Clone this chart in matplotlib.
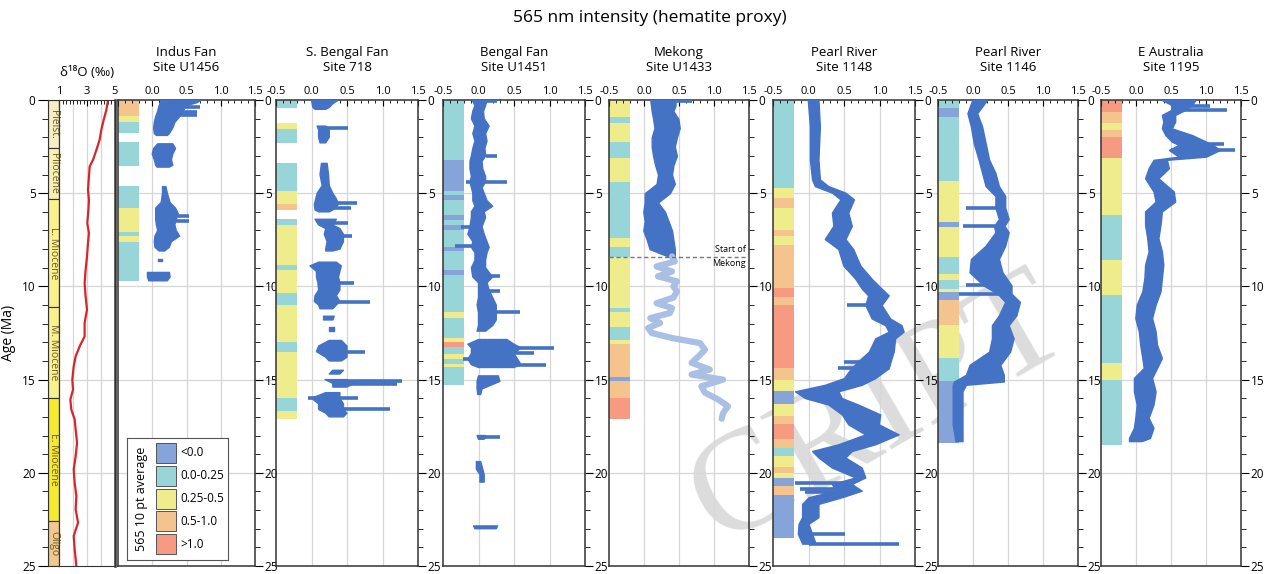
"""
565 nm intensity (hematite proxy) down-core records for seven sites,
with a benthic d18O stack and epoch column on the left.
"""

import numpy as np
import matplotlib.pyplot as plt
from matplotlib.patches import Rectangle
from matplotlib.ticker import MultipleLocator

nan = np.nan
plt.rcParams['font.family'] = ['Open Sans', 'DejaVu Sans']

# ---- epochs and d18O ----
epoch_names = ['Pleist.', 'Pliocene', 'L. Miocene', 'M. Miocene', 'E. Miocene', 'Oligo']
epoch_top = [0, 2.6, 5.33, 11.1, 16.0, 22.6]
epoch_bot = [2.6, 5.33, 11.1, 16.0, 22.6, 25]
epoch_colors = ['#f8eec4', '#f8efb4', '#f9f08e', '#f9f08e', '#f6ea2e', '#f0c890']

d18o_age = [0, 0.54, 1.07, 1.61, 2.14, 2.68, 3.21, 3.57, 4.11, 4.82, 5.36, 5.89,
            6.61, 7.14, 7.68, 8.39, 9.11, 9.82, 10.54, 11.25, 11.96, 12.68, 13.21,
            13.75, 14.29, 15.0, 15.54, 16.07, 16.61, 17.14, 17.68, 18.39, 19.11,
            19.82, 20.54, 21.25, 21.96, 22.68, 23.39, 24.11, 25.0]
d18o_val = [4.5, 4.38, 4.19, 4.02, 3.9, 3.67, 3.43, 3.19, 3.14, 3.07, 3.14, 3.1,
            3.02, 3.14, 3.07, 3.0, 2.9, 2.83, 2.9, 3.0, 2.83, 2.83, 2.48,
            2.19, 2.05, 1.95, 2.0, 1.81, 1.88, 2.12, 2.19, 2.29, 2.19,
            2.05, 2.12, 2.24, 2.19, 2.36, 2.05, 2.12, 2.24]

# ---- colour classes of the 10 pt average ----
bin_labels = ['<0.0', '0.0-0.25', '0.25-0.5', '0.5-1.0', '>1.0']
bin_colors = ['#86a4d9', '#97d5d9', '#efec8c', '#f5c48e', '#f69a82']

# ---- Indus Fan, Site U1456 ----
indus_age = [0.0, 0.15, 0.3, 0.6, 0.9, 1.2, 1.5, 1.8, 1.9, nan,
             2.35, 2.6, 2.9, 3.2, 3.5, 3.6, nan,
             4.65, 5.0, 5.5, 5.8, 6.1, 6.4, 6.7, 7.0, 7.3, 7.6, 7.9, 8.1, nan,
             8.55, 8.65, nan, 9.25, 9.5, 9.7]
indus_lo = [0.13, 0.12, 0.10, 0.08, 0.05, 0.03, 0.02, 0.03, 0.06, nan,
            0.08, 0.02, 0.0, 0.03, 0.05, 0.07, nan,
            0.15, 0.15, 0.13, 0.05, 0.05, 0.05, 0.06, 0.08, 0.04, 0.03, 0.04, 0.10, nan,
            0.09, 0.09, nan, -0.07, -0.07, -0.05]
indus_hi = [0.72, 0.65, 0.50, 0.45, 0.40, 0.33, 0.30, 0.25, 0.22, nan,
            0.30, 0.34, 0.30, 0.28, 0.30, 0.25, nan,
            0.20, 0.22, 0.26, 0.34, 0.38, 0.35, 0.33, 0.35, 0.40, 0.28, 0.25, 0.18, nan,
            0.14, 0.14, nan, 0.25, 0.26, 0.22]
indus_streak_age = [0.35, 0.62, 0.8, 6.2, 6.5]
indus_streak_from = [0.3, 0.3, 0.3, 0.2, 0.2]
indus_streak_to = [0.70, 0.65, 0.65, 0.53, 0.53]
indus_bin_top = [0, 0.86, 1.16, 2.23, 4.6, 5.8, 7.1, 7.3, 7.6]
indus_bin_bot = [0.86, 1.16, 1.79, 3.54, 5.8, 7.1, 7.3, 7.6, 9.7]
indus_bin_cls = [3, 2, 1, 1, 1, 2, 1, 2, 1]

# ---- S. Bengal Fan, Site 718 ----
sbengal_age = [0.0, 0.2, 0.4, 0.5, nan,
               1.4, 1.6, 2.0, 2.3, nan,
               3.4, 4.0, 4.6, 5.0, 5.3, 5.6, 5.9, 6.0, nan,
               6.4, 6.7, 6.9, 7.2, 7.6, 8.0, 8.1, nan,
               8.7, 8.9, 9.2, 9.5, 9.8, 10.2, 10.5, 10.8, 11.0, 11.2, nan,
               11.6, 11.8, nan, 12.2, 12.4, nan,
               12.9, 13.2, 13.5, 13.8, 14.0, nan,
               14.5, 14.7, nan, 15.0, 15.2, 15.4, nan,
               15.7, 16.0, 16.3, 16.6, 16.8, 17.0]
sbengal_lo = [0.0, 0.01, 0.02, 0.05, nan,
              0.08, 0.10, 0.10, 0.12, nan,
              0.14, 0.12, 0.15, 0.08, 0.06, 0.04, 0.05, 0.10, nan,
              0.05, 0.10, 0.20, 0.18, 0.22, 0.20, 0.20, nan,
              0.10, -0.02, 0.07, 0.07, 0.09, 0.10, 0.05, 0.04, 0.10, 0.12, nan,
              0.17, 0.17, nan, 0.24, 0.24, nan,
              0.25, 0.10, 0.07, 0.20, 0.25, nan,
              0.30, 0.25, nan, 0.19, 0.30, 0.30, nan,
              0.20, 0.0, 0.10, 0.10, 0.20, 0.25]
sbengal_hi = [0.38, 0.30, 0.25, 0.20, nan,
              0.20, 0.25, 0.25, 0.20, nan,
              0.22, 0.24, 0.25, 0.30, 0.35, 0.38, 0.30, 0.25, nan,
              0.35, 0.30, 0.40, 0.45, 0.45, 0.40, 0.30, nan,
              0.35, 0.42, 0.40, 0.38, 0.40, 0.40, 0.35, 0.40, 0.35, 0.30, nan,
              0.32, 0.30, nan, 0.32, 0.32, nan,
              0.42, 0.50, 0.50, 0.50, 0.42, nan,
              0.45, 0.40, nan, 0.50, 0.60, 0.50, nan,
              0.40, 0.40, 0.45, 0.45, 0.50, 0.45]
sbengal_streak_age = [1.5, 5.55, 5.8, 6.6, 7.3, 9.8, 10.85, 13.5, 15.05, 15.25, 16.0, 16.6]
sbengal_streak_from = [0.15, 0.2, 0.2, 0.2, 0.3, 0.3, 0.3, 0.3, 0.3, 0.4, -0.05, 0.3]
sbengal_streak_to = [0.52, 0.64, 0.56, 0.52, 0.57, 0.60, 0.83, 0.75, 1.27, 1.20, 0.65, 1.10]
sbengal_bin_top = [0, 1.25, 1.57, 3.4, 4.9, 5.6, 6.4, 6.7, 8.84, 9.1, 10.36, 11.0, 13.0, 13.5, 16.0, 16.7]
sbengal_bin_bot = [0.45, 1.57, 2.29, 4.9, 5.6, 5.9, 6.7, 8.84, 9.1, 10.36, 11.0, 13.0, 13.5, 16.0, 16.7, 17.1]
sbengal_bin_cls = [1, 2, 1, 1, 2, 3, 1, 2, 1, 2, 1, 2, 1, 2, 1, 2]

# ---- Bengal Fan, Site U1451 ----
bengal_age = [0.0, 0.3, 0.6, 1.0, 1.4, 1.8, 2.2, 2.6, 3.0, 3.3, 3.7, 4.1, 4.4, 4.7,
              5.0, 5.4, 5.7, 6.0, 6.3, 6.8, 7.2, 7.6, 7.9, 8.2, 8.6, 9.0, 9.5, 9.8,
              10.2, 10.6, 11.0, 11.4, 11.8, 12.1, 12.4, nan,
              12.85, 13.1, 13.3, 13.6, 13.9, 14.2, 14.35, nan,
              14.8, 15.1, 15.5, 15.8, nan,
              18.0, 18.1, 18.2, nan,
              19.4, 19.8, 20.1, 20.5, nan,
              22.85, 23.0]
bengal_lo = [-0.09, -0.05, -0.08, -0.10, -0.05, -0.08, -0.05, -0.08, -0.10, -0.12, -0.12, -0.10, -0.12, -0.10,
             -0.08, -0.08, -0.05, -0.10, -0.10, -0.12, -0.15, -0.08, -0.10, -0.05, -0.05, -0.10, -0.08, 0.0,
             0.0, 0.0, -0.02, 0.0, 0.0, 0.0, -0.02, nan,
             0.0, -0.15, -0.10, -0.10, -0.15, -0.10, 0.0, nan,
             0.0, -0.02, -0.02, -0.01, nan,
             -0.02, -0.01, 0.0, nan,
             -0.03, -0.03, 0.02, 0.02, nan,
             -0.07, -0.05]
bengal_hi = [0.12, 0.10, 0.07, 0.08, 0.15, 0.10, 0.12, 0.09, 0.10, 0.05, 0.06, 0.10, 0.10, 0.05,
             0.08, 0.12, 0.20, 0.08, 0.10, 0.05, 0.08, 0.12, 0.15, 0.12, 0.10, 0.10, 0.20, 0.12,
             0.15, 0.20, 0.25, 0.25, 0.25, 0.20, 0.10, nan,
             0.40, 0.50, 0.60, 0.50, 0.55, 0.60, 0.50, nan,
             0.28, 0.30, 0.05, 0.03, nan,
             0.10, 0.10, 0.08, nan,
             0.03, 0.06, 0.08, 0.08, nan,
             0.27, 0.25]
bengal_streak_age = [0.05, 3.0, 4.4, 6.8, 7.85, 9.45, 10.25, 11.4, 13.3, 13.55, 13.9, 14.2, 18.1]
bengal_streak_from = [0.1, 0.1, -0.18, -0.24, -0.33, 0.1, 0.1, 0.15, 0.3, 0.3, -0.22, 0.3, 0.05]
bengal_streak_to = [0.26, 0.26, 0.40, 0.0, 0.0, 0.30, 0.30, 0.59, 1.06, 0.78, 0.0, 0.95, 0.30]
bengal_bin_top = [0, 3.2, 4.9, 5.1, 5.36, 6.16, 6.43, 6.7, 6.96, 7.86, 8.1, 9.1, 9.4, 11.4, 11.7,
                  12.77, 13.0, 13.25, 13.65, 13.9, 14.15, 14.3]
bengal_bin_bot = [3.2, 4.9, 5.1, 5.36, 6.16, 6.43, 6.7, 6.96, 7.86, 8.1, 9.1, 9.4, 11.4, 11.7, 12.77,
                  13.0, 13.25, 13.65, 13.9, 14.15, 14.3, 15.3]
bengal_bin_cls = [1, 0, 1, 0, 1, 0, 1, 0, 1, 0, 1, 0, 1, 2, 1, 2, 4, 1, 2, 1, 2, 1]

# ---- Mekong, Site U1433 ----
mekong_age = [0.0, 0.3, 0.6, 1.0, 1.5, 2.0, 2.5, 3.0, 3.5, 4.0, 4.5, 5.0, 5.5, 6.0,
              6.5, 7.0, 7.5, 8.0, 8.4]
mekong_lo = [0.09, 0.10, 0.11, 0.13, 0.15, 0.11, 0.11, 0.13, 0.16, 0.20, 0.18, 0.01, 0.01, -0.01,
             0.01, -0.01, 0.04, 0.08, 0.35]
mekong_hi = [0.45, 0.45, 0.42, 0.49, 0.51, 0.47, 0.44, 0.47, 0.42, 0.40, 0.44, 0.37, 0.20, 0.30,
             0.35, 0.40, 0.42, 0.44, 0.44]
mekong_streak_age = [0.05]
mekong_streak_from = [0.3]
mekong_streak_to = [0.68]
# older part, before the Mekong started (pale)
premekong_age = [8.39, 8.66, 8.93, 9.2, 9.46, 9.73, 10.0, 10.27, 10.6, 10.9, 11.16, 11.43,
                 11.7, 11.96, 12.23, 12.5, 12.77, 13.04, 13.4, 13.75, 14.1, 14.46, 14.73,
                 15.0, 15.36, 15.7, 16.07, 16.43, 16.8, 17.1]
premekong_val = [0.40, 0.44, 0.18, 0.40, 0.20, 0.47, 0.42, 0.47, 0.42, 0.18, 0.40, 0.37,
                 0.09, 0.23, 0.06, 0.11, 0.40, 0.80, 0.87, 0.78, 0.68, 0.94, 0.68,
                 1.13, 0.82, 0.87, 1.06, 1.20, 1.13, 1.11]
mekong_start = 8.4
mekong_bin_top = [0, 0.9, 1.25, 2.23, 3.1, 4.4, 7.4, 7.86, 8.4, 11.16, 11.4, 12.2, 12.86, 13.1, 14.86, 15.05, 16.0]
mekong_bin_bot = [0.9, 1.25, 2.23, 3.1, 4.4, 7.4, 7.86, 8.4, 11.16, 11.4, 12.2, 12.86, 13.1, 14.86, 15.05, 16.0, 17.1]
mekong_bin_cls = [2, 1, 2, 1, 2, 1, 2, 1, 2, 1, 2, 1, 2, 3, 0, 3, 4]

# ---- Pearl River, Site 1148 ----
p1148_age = [0.0, 1.42, 3.2, 4.26, 4.62, 4.97, 5.33, 6.04, 6.75, 7.46, 8.0, 8.88, 9.59,
             10.12, 10.48, 11.0, 11.72, 12.08, 12.43, 12.79, 13.5, 13.85, 14.39, 14.92,
             15.28, 15.63, 15.99, 16.34, 16.87, 17.4, 17.94, 18.47, 18.83, 19.18, 19.72,
             20.25, 20.6, 20.96, 21.31, 21.67, 22.38, 22.74, 23.27, 23.8]
p1148_lo = [-0.01, 0.02, 0.02, 0.05, 0.09, 0.33, 0.45, 0.33, 0.35, 0.23, 0.42, 0.49, 0.66,
            0.75, 0.84, 0.80, 0.89, 1.08, 1.13, 0.94, 0.85, 0.75, 0.60, 0.50,
            0.23, -0.19, -0.05, 0.28, 0.47, 0.56, 0.80, 0.42, 0.05, 0.14, 0.33,
            0.66, 0.33, 0.38, 0.0, -0.09, -0.09, -0.14, -0.15, -0.09]
p1148_hi = [0.14, 0.16, 0.14, 0.16, 0.28, 0.52, 0.64, 0.56, 0.61, 0.52, 0.63, 0.73, 0.89,
            1.03, 1.13, 1.03, 1.15, 1.31, 1.34, 1.22, 1.20, 1.17, 1.13, 0.94,
            0.75, 0.42, 0.47, 0.70, 1.01, 0.99, 1.27, 0.94, 0.61, 0.52, 0.75,
            0.80, 0.61, 0.75, 0.47, 0.14, 0.14, 0.0, 0.05, 0.10]
p1148_streak_age = [10.98, 14.03, 14.4, 20.55, 20.85, 21.05, 23.3, 23.8]
p1148_streak_from = [0.54, 0.50, 0.42, -0.19, -0.12, -0.05, 0.0, 0.0]
p1148_streak_to = [0.90, 0.90, 0.80, 0.55, 0.60, 0.60, 0.52, 1.27]
p1148_bin_top = [0, 4.7, 5.24, 5.77, 7.0, 7.3, 7.8, 10.1, 10.57, 11.0, 14.4, 15.0, 15.6, 16.3,
                 16.96, 17.4, 18.2, 18.65, 19.1, 19.7, 20.0, 20.3, 20.7, 21.2]
p1148_bin_bot = [4.7, 5.24, 5.77, 7.0, 7.3, 7.8, 10.1, 10.57, 11.0, 14.4, 15.0, 15.6, 16.3, 16.96,
                 17.4, 18.2, 18.65, 19.1, 19.7, 20.0, 20.3, 20.7, 21.2, 23.5]
p1148_bin_cls = [1, 2, 3, 2, 3, 2, 3, 4, 3, 4, 3, 2, 0, 2, 3, 4, 3, 1, 2, 3, 2, 0, 3, 0]

# ---- Pearl River, Site 1146 ----
p1146_age = [0.0, 0.71, 1.42, 2.31, 3.2, 3.91, 4.62, 5.15, 5.77, 6.39, 6.75, 7.1, 7.82,
             8.53, 9.24, 9.95, 10.39, 10.83, 11.55, 12.08, 12.79, 13.5, 14.21, 14.74,
             15.1, 15.28, 15.63, 17.4, 18.3]
p1146_lo = [-0.01, -0.08, -0.03, 0.01, 0.08, 0.13, 0.18, 0.32, 0.32, 0.37, 0.30, 0.32, 0.18,
            -0.03, -0.05, 0.15, 0.35, 0.46, 0.37, 0.27, 0.27, 0.23, -0.05, -0.10,
            -0.27, -0.29, -0.29, -0.29, -0.25]
p1146_hi = [0.20, 0.06, 0.13, 0.18, 0.23, 0.32, 0.37, 0.46, 0.46, 0.51, 0.45, 0.51, 0.46,
            0.37, 0.42, 0.55, 0.55, 0.67, 0.62, 0.51, 0.58, 0.53, 0.39, 0.44,
            0.44, -0.10, -0.15, -0.15, -0.15]
p1146_streak_age = [5.8, 6.75, 9.95, 10.4]
p1146_streak_from = [-0.10, -0.15, -0.10, -0.20]
p1146_streak_to = [0.35, 0.32, 0.30, 0.40]
p1146_bin_top = [0, 0.45, 0.9, 4.35, 6.57, 6.84, 8.44, 9.33, 9.68, 10.12, 10.3, 10.75, 12.08, 13.85, 15.1]
p1146_bin_bot = [0.45, 0.9, 4.35, 6.57, 6.84, 8.44, 9.33, 9.68, 10.12, 10.3, 10.75, 12.08, 13.85, 15.1, 18.4]
p1146_bin_cls = [1, 0, 1, 2, 0, 2, 1, 2, 1, 2, 0, 3, 2, 1, 0]

# ---- E Australia, Site 1195 ----
eaus_age = [0.0, 0.27, 0.54, 0.8, 1.16, 1.52, 1.88, 2.23, 2.41, 2.68, 3.04, 3.21, 3.66,
            4.2, 4.91, 5.45, 5.98, 6.7, 7.41, 8.13, 8.84, 9.55, 10.27, 10.98, 11.7,
            12.41, 13.13, 13.84, 14.38, 14.91, 15.63, 16.34, 17.05, 17.59, 18.13, 18.3]
eaus_lo = [0.37, 0.51, 0.50, 0.37, 0.39, 0.37, 0.42, 0.51, 0.61, 0.47, 0.61, 0.25, 0.18,
           0.13, 0.25, 0.28, 0.13, 0.13, 0.16, 0.18, 0.13, 0.12, 0.09, 0.01, -0.01,
           0.04, 0.06, 0.09, 0.11, -0.03, -0.03, 0.01, -0.01, -0.03, -0.10, -0.10]
eaus_hi = [0.85, 0.80, 0.70, 0.56, 0.56, 0.51, 0.80, 1.00, 1.10, 1.20, 1.00, 0.44, 0.47,
           0.32, 0.54, 0.56, 0.37, 0.35, 0.32, 0.37, 0.39, 0.37, 0.35, 0.28, 0.23,
           0.28, 0.30, 0.37, 0.30, 0.23, 0.28, 0.25, 0.18, 0.25, 0.20, 0.08]
eaus_streak_age = [0.3, 0.55, 2.35, 2.7]
eaus_streak_from = [0.6, 0.56, 0.6, 0.5]
eaus_streak_to = [1.06, 1.30, 1.25, 1.42]
eaus_bin_top = [0, 0.63, 1.25, 1.6, 1.96, 3.13, 6.16, 8.57, 10.45, 14.1, 15.0]
eaus_bin_bot = [0.63, 1.25, 1.6, 1.96, 3.13, 6.16, 8.57, 10.45, 14.1, 15.0, 18.5]
eaus_bin_cls = [4, 3, 2, 3, 4, 2, 1, 2, 1, 2, 1]

site_titles = ['Indus Fan\nSite U1456', 'S. Bengal Fan\nSite 718', 'Bengal Fan\nSite U1451',
               'Mekong\nSite U1433', 'Pearl River\nSite 1148', 'Pearl River\nSite 1146',
               'E Australia\nSite 1195']
site_env = [(indus_age, indus_lo, indus_hi), (sbengal_age, sbengal_lo, sbengal_hi),
            (bengal_age, bengal_lo, bengal_hi), (mekong_age, mekong_lo, mekong_hi),
            (p1148_age, p1148_lo, p1148_hi), (p1146_age, p1146_lo, p1146_hi),
            (eaus_age, eaus_lo, eaus_hi)]
site_streaks = [(indus_streak_age, indus_streak_from, indus_streak_to),
                (sbengal_streak_age, sbengal_streak_from, sbengal_streak_to),
                (bengal_streak_age, bengal_streak_from, bengal_streak_to),
                (mekong_streak_age, mekong_streak_from, mekong_streak_to),
                (p1148_streak_age, p1148_streak_from, p1148_streak_to),
                (p1146_streak_age, p1146_streak_from, p1146_streak_to),
                (eaus_streak_age, eaus_streak_from, eaus_streak_to)]
site_bins = [(indus_bin_top, indus_bin_bot, indus_bin_cls),
             (sbengal_bin_top, sbengal_bin_bot, sbengal_bin_cls),
             (bengal_bin_top, bengal_bin_bot, bengal_bin_cls),
             (mekong_bin_top, mekong_bin_bot, mekong_bin_cls),
             (p1148_bin_top, p1148_bin_bot, p1148_bin_cls),
             (p1146_bin_top, p1146_bin_bot, p1146_bin_cls),
             (eaus_bin_top, eaus_bin_bot, eaus_bin_cls)]

# ---- layout (pixels) ----
W, H = 1269, 574
TOP, BOT = 100, 566
panel_x = [(118, 255), (276, 418), (443, 585), (609, 749), (773, 915), (938, 1078), (1101, 1241)]
BLUE = '#4472c4'
PALE = '#a9c0e4'
GRID = '#d6d6d6'
SPINE = '#333333'


def add_ax(x0, x1, **kw):
    return fig.add_axes([x0 / W, 1 - BOT / H, (x1 - x0) / W, (BOT - TOP) / H], **kw)


fig = plt.figure(figsize=(W / 100, H / 100), dpi=100)

# horizontal age grid running across the whole figure
bg = add_ax(59, 1241, zorder=-5)
bg.set_ylim(25, 0)
bg.axis('off')
for a in [5, 10, 15, 20]:
    bg.axhline(a, color=GRID, lw=0.9)

# watermark of the manuscript page
bg.text(735 / W, 1 - 572 / H, 'CRIPT', transform=fig.transFigure, fontsize=104,
        family='Liberation Serif', color='#dcdcdc', rotation=30, rotation_mode='anchor',
        ha='left', va='bottom', clip_on=False, zorder=-10)

# epoch column
ax_ep = add_ax(48, 59)
ax_ep.bar(0.5, np.subtract(epoch_bot, epoch_top), bottom=epoch_top, width=1,
          color=epoch_colors, edgecolor=SPINE, lw=0.8)
for name, t, b in zip(epoch_names, epoch_top, epoch_bot):
    ax_ep.text(0.5, (t + b) / 2, name, rotation=-90, ha='center', va='center',
               fontsize=7.5, color='#6a5a25')
ax_ep.set_xlim(0, 1)
ax_ep.set_ylim(25, 0)
ax_ep.set_xticks([])
ax_ep.yaxis.set_major_locator(MultipleLocator(5))
ax_ep.yaxis.set_minor_locator(MultipleLocator(1))
ax_ep.tick_params(axis='y', which='major', length=7, direction='out', labelsize=8.5, pad=2)
ax_ep.tick_params(axis='y', which='minor', length=4, direction='out')
ax_ep.set_ylabel('Age (Ma)', fontsize=10, labelpad=4)
for s in ax_ep.spines.values():
    s.set_color(SPINE)

# d18O panel
ax_o = add_ax(59, 115)
ax_o.set_facecolor('none')
ax_o.plot(d18o_val, d18o_age, color='#d7262b', lw=1.6)
ax_o.set_xlim(1, 5)
ax_o.set_ylim(25, 0)
ax_o.set_yticks([])
ax_o.xaxis.tick_top()
ax_o.set_xticks([1, 3, 5])
ax_o.xaxis.set_minor_locator(MultipleLocator(0.25))
ax_o.tick_params(axis='x', which='major', direction='in', length=4, labelsize=8, pad=2)
ax_o.tick_params(axis='x', which='minor', direction='in', length=3)
for v in [2, 3, 4]:
    ax_o.axvline(v, color=GRID, lw=0.9, zorder=0)
for s in ax_o.spines.values():
    s.set_color(SPINE)
ax_o.spines['right'].set_linewidth(1.8)
ax_o.text(0.5, 1.045, '\u03b4\u00b9\u2078O (\u2030)', transform=ax_o.transAxes,
          ha='center', va='bottom', fontsize=9.5)

# data panels
for i, (x0, x1) in enumerate(panel_x):
    ax = add_ax(x0, x1)
    ax.set_facecolor('none')
    age, lo, hi = site_env[i]
    tops, bots, cls = site_bins[i]
    s_age, s_from, s_to = site_streaks[i]
    ax.bar(-0.35, np.subtract(bots, tops), bottom=tops, width=0.3,
           color=[bin_colors[c] for c in cls], lw=0, zorder=1)
    ax.fill_betweenx(age, lo, hi, color=BLUE, edgecolor=BLUE, lw=1.0, zorder=3)
    ax.hlines(s_age, s_from, s_to, color=BLUE, lw=2.6, zorder=3)
    if i == 3:
        ax.plot(premekong_val, premekong_age, color=PALE, lw=4.5,
                solid_capstyle='round', solid_joinstyle='round', zorder=3)
        ax.axhline(mekong_start, color='#777777', lw=1, ls=(0, (3, 2)), zorder=4)
        ax.text(1.46, mekong_start - 0.12, 'Start of', ha='right', va='bottom', fontsize=6.5)
        ax.text(1.46, mekong_start + 0.12, 'Mekong', ha='right', va='top', fontsize=6.5)
    for v in [0, 0.5, 1.0]:
        ax.axvline(v, color=GRID, lw=0.9, zorder=0)
    ax.set_xlim(-0.5, 1.5)
    ax.set_ylim(25, 0)
    ax.xaxis.tick_top()
    ax.set_xticks([-0.5, 0, 0.5, 1.0, 1.5])
    ax.set_xticklabels(['' if i == 0 else '-0.5', '0.0', '0.5', '1.0', '1.5'])
    ax.xaxis.set_minor_locator(MultipleLocator(0.1))
    ax.tick_params(axis='x', which='major', direction='in', length=4, labelsize=8, pad=2)
    ax.tick_params(axis='x', which='minor', direction='in', length=2.5)
    ax.yaxis.tick_right()
    ax.yaxis.set_major_locator(MultipleLocator(5))
    ax.yaxis.set_minor_locator(MultipleLocator(1))
    ax.tick_params(axis='y', which='major', direction='out', length=6, labelsize=8.5, pad=1)
    ax.tick_params(axis='y', which='minor', direction='out', length=3.5)
    for s in ax.spines.values():
        s.set_color(SPINE)
        s.set_linewidth(1.1)
    ax.text(0.5, 1.056, site_titles[i], transform=ax.transAxes, ha='center',
            va='bottom', fontsize=9.5, linespacing=1.2)

# legend box for the colour classes
lg = fig.add_axes([127 / W, 1 - 560 / H, 101 / W, 122 / H])
lg.set_xlim(0, 101)
lg.set_ylim(122, 0)
lg.set_xticks([])
lg.set_yticks([])
for s in lg.spines.values():
    s.set_color('#555555')
    s.set_linewidth(0.8)
lg.text(14, 61, '565 10 pt average', rotation=90, ha='center', va='center', fontsize=9)
for k, (lab, col) in enumerate(zip(bin_labels, bin_colors)):
    y0 = 5 + k * 22.8
    lg.add_patch(Rectangle((29, y0), 20, 20, facecolor=col, edgecolor='#555555', lw=0.7))
    lg.text(53, y0 + 10, lab, ha='left', va='center', fontsize=8.5)

fig.text(650 / W, 1 - 18 / H, '565 nm intensity (hematite proxy)', ha='center',
         va='center', fontsize=12.5)

fig.savefig('out.png', dpi=100)
